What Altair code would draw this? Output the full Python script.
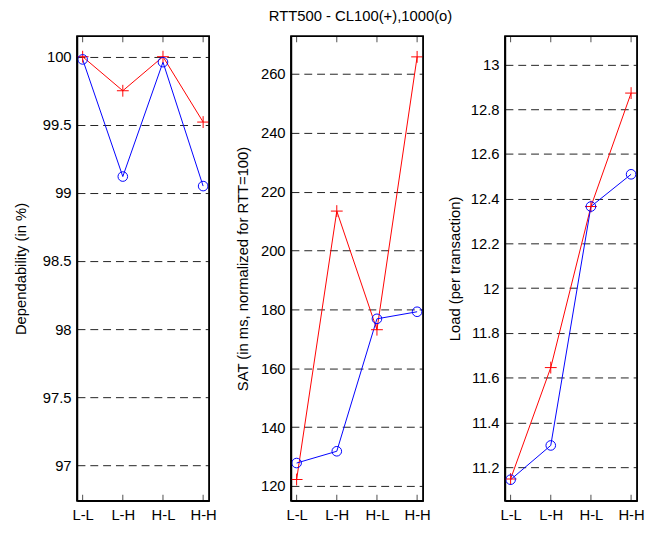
import altair as alt
import pandas as pd

categories = ["L-L", "L-H", "H-L", "H-H"]
cat_index = [1, 2, 3, 4]

dep_cl100 = [100.0, 99.75, 100.0, 99.52]
dep_cl1000 = [99.98, 99.12, 99.96, 99.05]

sat_cl100 = [122.2, 213.4, 173.1, 265.8]
sat_cl1000 = [127.8, 131.8, 176.8, 179.2]

load_cl100 = [11.147, 11.645, 12.365, 12.872]
load_cl1000 = [11.144, 11.297, 12.365, 12.509]

dep_ticks = [97, 97.5, 98, 98.5, 99, 99.5, 100]
sat_ticks = [120, 140, 160, 180, 200, 220, 240, 260]
load_ticks = [11.2, 11.4, 11.6, 11.8, 12, 12.2, 12.4, 12.6, 12.8, 13]

FONT = "Liberation Sans"
FS = 15
W, H = 134, 471
PLUS = "M-1,0L1,0M0,-1L0,1"


def panel(red, blue, ydomain, yticks, ytitle, title_pad):
    df = pd.DataFrame({
        "idx": cat_index * 2,
        "cat": categories * 2,
        "value": red + blue,
        "series": ["CL100"] * 4 + ["CL1000"] * 4,
    })
    cats = pd.DataFrame({"idx": cat_index})
    one = pd.DataFrame({"k": [0]})
    xs = alt.Scale(domain=[0.86, 4.15], nice=False, zero=False)
    ys = alt.Scale(domain=ydomain, nice=False, zero=False)
    label_expr = "['', 'L-L', 'L-H', 'H-L', 'H-H'][datum.value]"
    x = alt.X("idx:Q", scale=xs,
              axis=alt.Axis(values=cat_index, labelExpr=label_expr, title=None,
                            grid=False, ticks=False, domain=True, domainColor="black",
                            domainWidth=1.5, labelPadding=7,
                            labelFont=FONT, labelFontSize=FS, labelColor="black"))
    y = alt.Y("value:Q", scale=ys,
              axis=alt.Axis(values=yticks, format=".1~f", title=ytitle, grid=True,
                            gridDash=[8, 5], gridColor="#222", gridWidth=1,
                            ticks=False, domain=True, domainColor="black", domainWidth=1.5,
                            labelPadding=6, labelFont=FONT, labelFontSize=FS,
                            labelColor="black", titleFont=FONT, titleFontSize=FS,
                            titleFontWeight="normal", titleColor="black",
                            titlePadding=title_pad, labelFlush=False))
    base = alt.Chart(df).encode(x=x, y=y)
    red_line = base.transform_filter("datum.series == 'CL100'").mark_line(color="red", strokeWidth=1)
    blue_line = base.transform_filter("datum.series == 'CL1000'").mark_line(color="blue", strokeWidth=1)
    red_pts = base.transform_filter("datum.series == 'CL100'").mark_point(
        shape=PLUS, size=144, color="red", strokeWidth=1, filled=False, opacity=1)
    blue_pts = base.transform_filter("datum.series == 'CL1000'").mark_point(
        shape="circle", size=95, color="blue", strokeWidth=1, filled=False, opacity=1)
    tb = alt.Chart(cats).encode(x=alt.X("idx:Q", scale=xs))
    top_ticks = tb.mark_tick(color="black", thickness=1, size=6, orient="vertical",
                             yOffset=3).encode(y=alt.value(0))
    bot_ticks = tb.mark_tick(color="black", thickness=1, size=6, orient="vertical",
                             yOffset=-3).encode(y=alt.value(H))
    frame = alt.Chart(one).mark_rect(fill="white", fillOpacity=0, stroke="black",
                                     strokeWidth=1.5).encode(
        x=alt.value(0), x2=alt.value(W), y=alt.value(0), y2=alt.value(H))
    return alt.layer(red_line, blue_line, red_pts, blue_pts, top_ticks, bot_ticks, frame
                     ).properties(width=W, height=H)


p1 = panel(dep_cl100, dep_cl1000, [96.74, 100.15], dep_ticks, "Dependability (in %)", 14)
p2 = panel(sat_cl100, sat_cl1000, [115, 272.8], sat_ticks, "SAT (in ms, normalized for RTT=100)", 10)
p3 = panel(load_cl100, load_cl1000, [11.05, 13.126], load_ticks, "Load (per transaction)", 8)

chart = alt.HConcatChart(
    hconcat=[p1, p2, p3], spacing=83, bounds="flush",
    title=alt.TitleParams("RTT500 - CL100(+),1000(o)", anchor="middle", font=FONT,
                          fontSize=FS, fontWeight="normal", color="black", offset=11, dx=32),
).properties(
    padding={"left": 5, "top": -3, "right": 0, "bottom": 0},
    background="white",
).configure_view(stroke="black", strokeWidth=1.5, strokeOpacity=1)

chart.save("out.html", embed_options={"renderer": "svg", "actions": False})
